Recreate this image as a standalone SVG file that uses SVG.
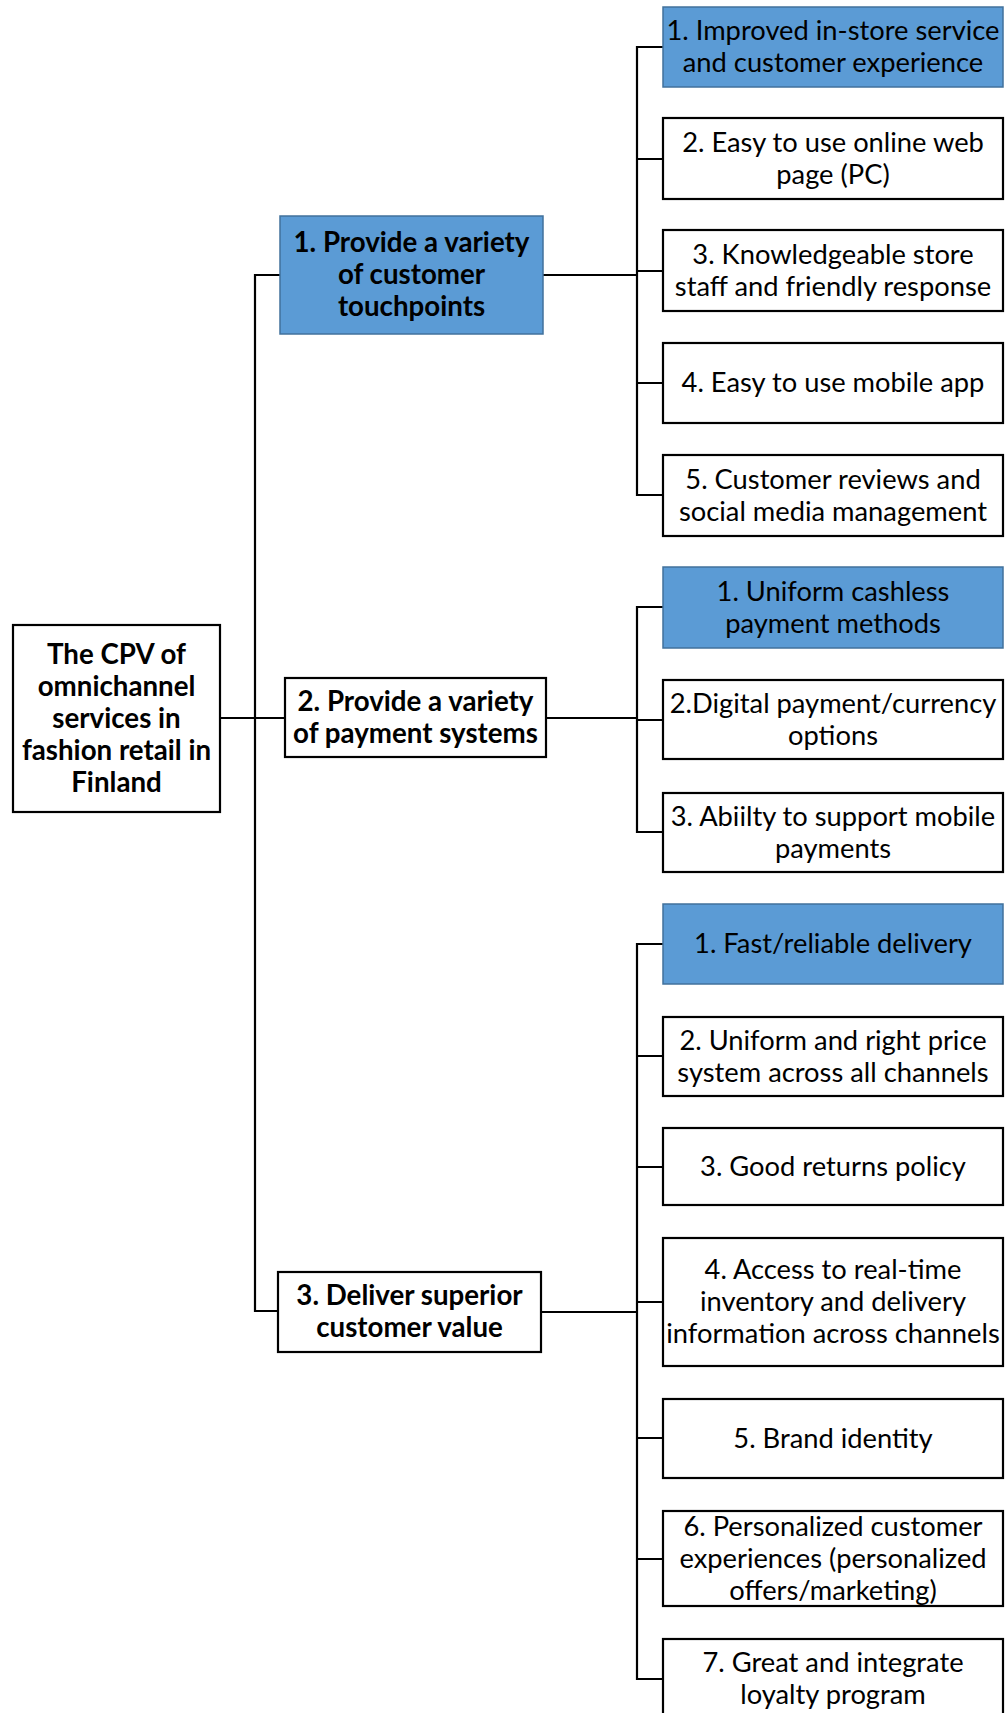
<svg xmlns="http://www.w3.org/2000/svg" width="1008" height="1713" viewBox="0 0 1008 1713">
  <style>
    .box { fill: #ffffff; stroke: #000000; stroke-width: 2.2; }
    .hl { fill: #5B9BD5; stroke: #41719C; stroke-width: 1.5; }
    .wire { fill: none; stroke: #000000; stroke-width: 2.2; stroke-linecap: square; }
    text { font-family: Lato, "Open Sans", "Liberation Sans", sans-serif; font-size: 27.3px; fill: #000000; text-anchor: middle; }
    .b { font-weight: bold; font-size: 27.7px; }
  </style>
  <rect width="1008" height="1713" fill="#ffffff"/>

  <!-- connectors -->
  <g id="connectors">
    <!-- trunk from the root to the three goals -->
    <path class="wire" d="M220,718 H285 M255,275 V1311 M255,275 H280 M255,1311 H278"/>
    <!-- goal 1 -> touchpoint items -->
    <path class="wire" d="M543,275 H637 M637,47 V495 M637,47 H663 M637,159 H663 M637,271 H663 M637,383 H663 M637,495 H663"/>
    <!-- goal 2 -> payment items -->
    <path class="wire" d="M546,718 H637 M637,607 V832 M637,607 H663 M637,720 H663 M637,832 H663"/>
    <!-- goal 3 -> value items -->
    <path class="wire" d="M541,1312 H637 M637,944 V1679 M637,944 H663 M637,1056 H663 M637,1167 H663 M637,1302 H663 M637,1438 H663 M637,1559 H663 M637,1679 H663"/>
  </g>

  <!-- root -->
  <g id="root">
    <rect class="box" x="13" y="625" width="207" height="187"/>
    <text class="b" x="116.5" y="663.5">The CPV of</text>
    <text class="b" x="116.5" y="695.5">omnichannel</text>
    <text class="b" x="116.5" y="727.5">services in</text>
    <text class="b" x="116.5" y="759.5">fashion retail in</text>
    <text class="b" x="116.5" y="791.5">Finland</text>
  </g>

  <!-- goals -->
  <g id="goal-touchpoints">
    <rect class="hl" x="280" y="216" width="263" height="118"/>
    <text class="b" x="411.5" y="252">1. Provide a variety</text>
    <text class="b" x="411.5" y="284">of customer</text>
    <text class="b" x="411.5" y="316">touchpoints</text>
  </g>
  <g id="goal-payments">
    <rect class="box" x="285" y="678" width="261" height="79"/>
    <text class="b" x="415.5" y="711">2. Provide a variety</text>
    <text class="b" x="415.5" y="743">of payment systems</text>
  </g>
  <g id="goal-value">
    <rect class="box" x="278" y="1272" width="263" height="80"/>
    <text class="b" x="409.5" y="1305">3. Deliver superior</text>
    <text class="b" x="409.5" y="1337">customer value</text>
  </g>

  <!-- touchpoint items -->
  <g id="tp1">
    <rect class="hl" x="663" y="7" width="340" height="80"/>
    <text x="833" y="40">1. Improved in-store service</text>
    <text x="833" y="72">and customer experience</text>
  </g>
  <g id="tp2">
    <rect class="box" x="663" y="118" width="340" height="81"/>
    <text x="833" y="151.5">2. Easy to use online web</text>
    <text x="833" y="183.5">page (PC)</text>
  </g>
  <g id="tp3">
    <rect class="box" x="663" y="230" width="340" height="81"/>
    <text x="833" y="263.5">3. Knowledgeable store</text>
    <text x="833" y="295.5">staff and friendly response</text>
  </g>
  <g id="tp4">
    <rect class="box" x="663" y="343" width="340" height="80"/>
    <text x="833" y="392">4. Easy to use mobile app</text>
  </g>
  <g id="tp5">
    <rect class="box" x="663" y="455" width="340" height="81"/>
    <text x="833" y="488.5">5. Customer reviews and</text>
    <text x="833" y="520.5">social media management</text>
  </g>

  <!-- payment items -->
  <g id="pay1">
    <rect class="hl" x="663" y="567" width="340" height="81"/>
    <text x="833" y="600.5">1. Uniform cashless</text>
    <text x="833" y="632.5">payment methods</text>
  </g>
  <g id="pay2">
    <rect class="box" x="663" y="680" width="340" height="79"/>
    <text x="833" y="712.5">2.Digital payment/currency</text>
    <text x="833" y="744.5">options</text>
  </g>
  <g id="pay3">
    <rect class="box" x="663" y="793" width="340" height="79"/>
    <text x="833" y="825.5">3. Abiilty to support mobile</text>
    <text x="833" y="857.5">payments</text>
  </g>

  <!-- value items -->
  <g id="val1">
    <rect class="hl" x="663" y="904" width="340" height="80"/>
    <text x="833" y="953">1. Fast/reliable delivery</text>
  </g>
  <g id="val2">
    <rect class="box" x="663" y="1017" width="340" height="79"/>
    <text x="833" y="1049.5">2. Uniform and right price</text>
    <text x="833" y="1081.5">system across all channels</text>
  </g>
  <g id="val3">
    <rect class="box" x="663" y="1128" width="340" height="77"/>
    <text x="833" y="1175.5">3. Good returns policy</text>
  </g>
  <g id="val4">
    <rect class="box" x="663" y="1238" width="340" height="128"/>
    <text x="833" y="1279">4. Access to real-time</text>
    <text x="833" y="1311">inventory and delivery</text>
    <text x="833" y="1343">information across channels</text>
  </g>
  <g id="val5">
    <rect class="box" x="663" y="1399" width="340" height="79"/>
    <text x="833" y="1447.5">5. Brand identity</text>
  </g>
  <g id="val6">
    <rect class="box" x="663" y="1511" width="340" height="95"/>
    <text x="833" y="1535.5">6. Personalized customer</text>
    <text x="833" y="1567.5">experiences (personalized</text>
    <text x="833" y="1599.5">offers/marketing)</text>
  </g>
  <g id="val7">
    <rect class="box" x="663" y="1639" width="340" height="80"/>
    <text x="833" y="1672">7. Great and integrate</text>
    <text x="833" y="1704">loyalty program</text>
  </g>
</svg>
